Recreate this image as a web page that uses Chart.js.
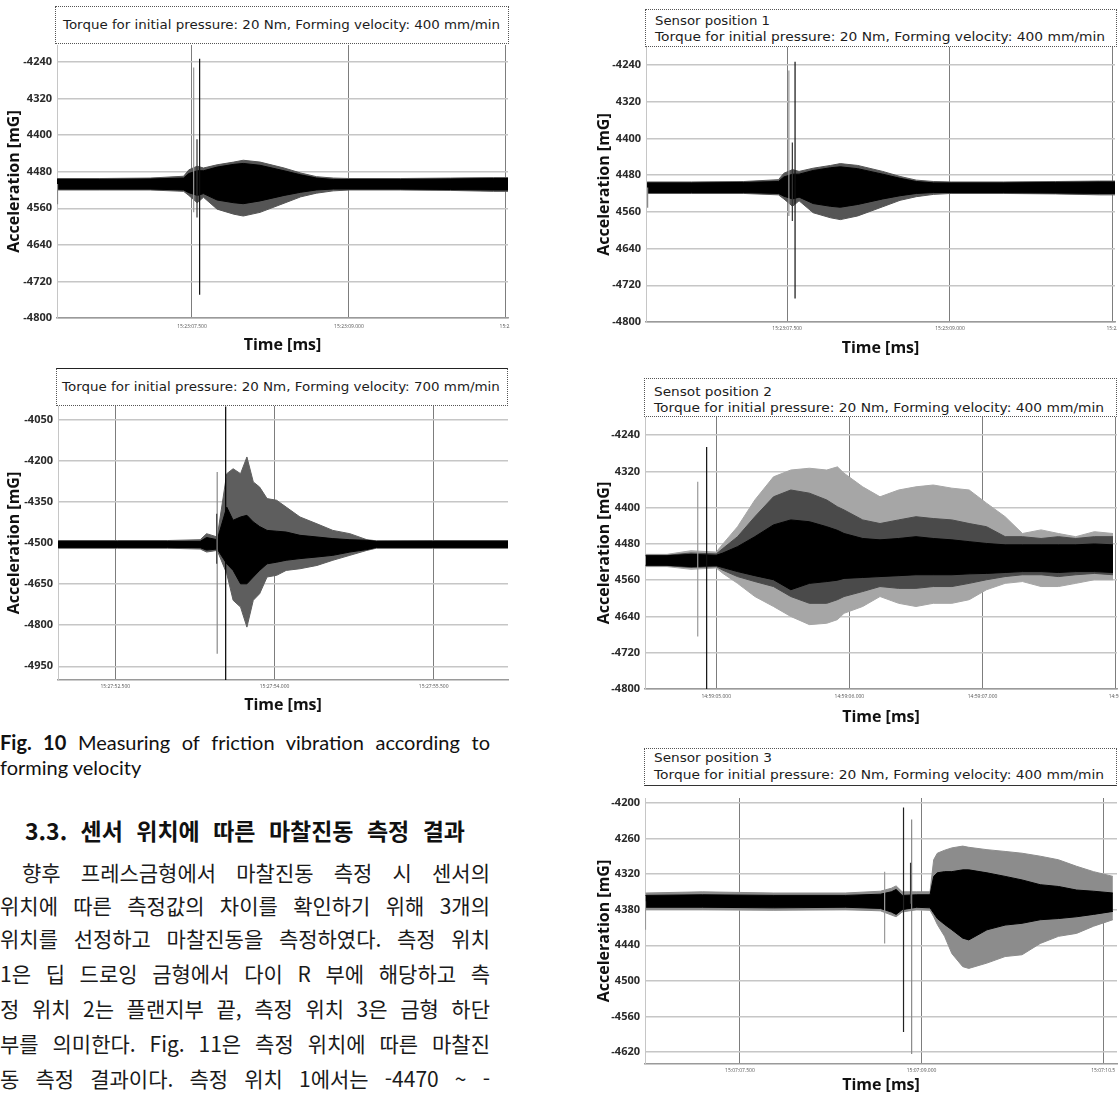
<!DOCTYPE html>
<html lang="ko">
<head>
<meta charset="UTF-8">
<title>마찰진동 측정 결과</title>
<script src="https://cdn.jsdelivr.net/npm/chart.js@4.4.1/dist/chart.umd.min.js"></script>
<style>
    html, body { margin: 0; padding: 0; background: #fff; }
    body { position: relative; width: 1119px; height: 1098px; overflow: hidden; }
    canvas { position: absolute; }
    .box { position: absolute; box-sizing: border-box; border: 1px dotted #555; background: #fff;
           font-family: "DejaVu Sans", sans-serif; font-size: 13px; color: #1c1c1c; }
    .box .ln { position: absolute; white-space: nowrap; line-height: 16px; }
    .fit { display: inline-block; transform-origin: 0 50%; }
    .cap { position: absolute; left: 0; width: 490px; font-family: Lato, sans-serif; font-size: 20px;
           line-height: 24px; color: #111; text-align: justify; text-align-last: justify; }
    .head { position: absolute; left: 25px; width: 440px; top: 815px; line-height: 30px;
            font-family: "Noto Sans CJK KR", sans-serif; font-weight: 700; font-size: 23px; color: #111;
            text-align: justify; text-align-last: justify; }
    .para { position: absolute; left: 0; width: 490px; line-height: 28px; font-family: "Noto Sans CJK KR", sans-serif;
            font-size: 21px; color: #1a1a1a; text-align: justify; text-align-last: justify; }
</style>
</head>
<body>
    <!-- 차트 캔버스 -->
    <canvas id="chart400" width="510" height="311" style="left:0;top:45px"></canvas>
    <canvas id="chart700" width="510" height="310" style="left:0;top:406px"></canvas>
    <canvas id="chartPos1" width="527" height="312" style="left:590px;top:47px"></canvas>
    <canvas id="chartPos2" width="529" height="311" style="left:590px;top:417px"></canvas>
    <canvas id="chartPos3" width="529" height="298" style="left:590px;top:798px"></canvas>

    <!-- 조건 박스 -->
    <div class="box" style="left:55px;top:6px;width:454px;height:38px">
        <div class="ln" style="left:7px;top:10px"><span class="fit" data-w="437">Torque for initial pressure: 20 Nm, Forming velocity: 400 mm/min</span></div>
    </div>
    <div class="box" style="left:56px;top:368px;width:452px;height:38px;border-top:1px solid #222">
        <div class="ln" style="left:5px;top:10px"><span class="fit" data-w="438">Torque for initial pressure: 20 Nm, Forming velocity: 700 mm/min</span></div>
    </div>
    <div class="box" style="left:645px;top:9px;width:472px;height:38px">
        <div class="ln" style="left:9px;top:3px"><span class="fit" data-w="115">Sensor position 1</span></div>
        <div class="ln" style="left:9px;top:19px"><span class="fit" data-w="450">Torque for initial pressure: 20 Nm, Forming velocity: 400 mm/min</span></div>
    </div>
    <div class="box" style="left:644px;top:378px;width:473px;height:39px">
        <div class="ln" style="left:9px;top:5px"><span class="fit" data-w="118">Sensot position 2</span></div>
        <div class="ln" style="left:9px;top:21px"><span class="fit" data-w="450">Torque for initial pressure: 20 Nm, Forming velocity: 400 mm/min</span></div>
    </div>
    <div class="box" style="left:644px;top:748px;width:473px;height:38px;border-bottom:1px solid #333">
        <div class="ln" style="left:9px;top:1px"><span class="fit" data-w="118">Sensor position 3</span></div>
        <div class="ln" style="left:9px;top:18px"><span class="fit" data-w="450">Torque for initial pressure: 20 Nm, Forming velocity: 400 mm/min</span></div>
    </div>

    <!-- 본문 -->
    <div class="cap" style="top:730px"><b>Fig. 10</b> Measuring of friction vibration according to</div>
    <div class="cap" style="top:755px;text-align:left;text-align-last:left">forming velocity</div>
    <div class="head">3.3. 센서 위치에 따른 마찰진동 측정 결과</div>
    <div class="para" style="top:858px;left:22px;width:468px">향후 프레스금형에서 마찰진동 측정 시 센서의</div>
    <div class="para" style="top:891px">위치에 따른 측정값의 차이를 확인하기 위해 3개의</div>
    <div class="para" style="top:924px">위치를 선정하고 마찰진동을 측정하였다. 측정 위치</div>
    <div class="para" style="top:959px">1은 딥 드로잉 금형에서 다이 R 부에 해당하고 측</div>
    <div class="para" style="top:994px">정 위치 2는 플랜지부 끝, 측정 위치 3은 금형 하단</div>
    <div class="para" style="top:1029px">부를 의미한다. Fig. 11은 측정 위치에 따른 마찰진</div>
    <div class="para" style="top:1064px">동 측정 결과이다. 측정 위치 1에서는 -4470 ~ -</div>

<script>
    // 성형속도 400 mm/min (센서 위치 1과 같은 측정) : 시간[s], 포락선[mG]
    const v400Time = [6.21, 6.62, 7.10, 7.42, 7.47, 7.55, 7.61, 7.74, 7.90, 7.99, 8.15, 8.38, 8.54, 8.69, 8.85, 9.01, 9.49, 9.97, 10.38, 10.52];
    const v400OuterHi = [-4495, -4495, -4494, -4490, -4476, -4468, -4472, -4465, -4459, -4455, -4459, -4472, -4483, -4491, -4494, -4495, -4495, -4494, -4493, -4493];
    const v400OuterLo = [-4520, -4520, -4520, -4523, -4532, -4548, -4536, -4562, -4573, -4577, -4569, -4549, -4535, -4527, -4522, -4520, -4520, -4521, -4523, -4523];
    const v400CoreHi = [-4497, -4497, -4496, -4494, -4484, -4478, -4478, -4470, -4464, -4462, -4466, -4478, -4487, -4494, -4497, -4497, -4497, -4496, -4495, -4495];
    const v400CoreLo = [-4518, -4518, -4518, -4520, -4526, -4532, -4528, -4542, -4548, -4550, -4544, -4532, -4525, -4520, -4518, -4518, -4518, -4519, -4520, -4520];
    const v400SpikeTime = [6.215, 7.516, 7.548, 7.573];
    const v400SpikeHi = [-4507, -4252, -4409, -4233];
    const v400SpikeLo = [-4551, -4569, -4580, -4749];
    const v400XTicks = [7.5, 9.0, 10.5];
    const v400XLabels = ['15:23:07.500', '15:23:09.000', '15:23'];

    // 성형속도 700 mm/min
    const v700Time = [51.96, 52.52, 52.99, 53.30, 53.36, 53.46, 53.55, 53.61, 53.68, 53.74, 53.80, 53.86, 53.93, 54.02, 54.11, 54.24, 54.40, 54.55, 54.71, 54.87, 54.96, 55.49, 56.20];
    const v700OuterHi = [-4491, -4491, -4491, -4488, -4466, -4478, -4247, -4229, -4247, -4186, -4277, -4296, -4338, -4344, -4369, -4405, -4430, -4454, -4466, -4488, -4492, -4491, -4491];
    const v700OuterLo = [-4519, -4519, -4519, -4522, -4533, -4527, -4612, -4709, -4734, -4807, -4709, -4685, -4624, -4618, -4600, -4594, -4582, -4563, -4545, -4527, -4519, -4519, -4519];
    const v700CoreHi = [-4494, -4494, -4494, -4494, -4480, -4488, -4369, -4417, -4405, -4399, -4423, -4440, -4454, -4457, -4460, -4472, -4478, -4484, -4488, -4490, -4494, -4494, -4494];
    const v700CoreLo = [-4516, -4516, -4516, -4517, -4526, -4522, -4576, -4600, -4649, -4649, -4624, -4600, -4576, -4570, -4563, -4557, -4551, -4545, -4533, -4524, -4516, -4516, -4516];
    const v700SpikeTime = [53.455, 53.46, 53.54];
    const v700SpikeHi = [-4393, -4241, -4002];
    const v700SpikeLo = [-4576, -4904, -5000];
    const v700XTicks = [52.5, 54.0, 55.5];
    const v700XLabels = ['15:27:52.500', '15:27:54.000', '15:27:55.500'];

    // 센서 위치 2
    const pos2Time = [4.47, 4.63, 4.81, 5.00, 5.05, 5.16, 5.29, 5.43, 5.56, 5.70, 5.83, 5.91, 5.96, 6.10, 6.23, 6.37, 6.50, 6.63, 6.77, 6.90, 7.03, 7.17, 7.30, 7.44, 7.57, 7.70, 7.84, 7.98];
    const pos2OuterHi = [-4503, -4503, -4495, -4498, -4480, -4442, -4383, -4332, -4317, -4313, -4317, -4310, -4324, -4354, -4376, -4361, -4354, -4350, -4357, -4361, -4390, -4420, -4457, -4449, -4457, -4464, -4453, -4457];
    const pos2OuterLo = [-4530, -4530, -4536, -4533, -4545, -4567, -4596, -4618, -4640, -4658, -4655, -4647, -4633, -4618, -4596, -4611, -4618, -4611, -4611, -4603, -4581, -4567, -4563, -4574, -4574, -4567, -4559, -4559];
    const pos2MidHi = [-4505, -4505, -4500, -4502, -4490, -4464, -4420, -4376, -4361, -4368, -4383, -4398, -4405, -4427, -4435, -4427, -4420, -4424, -4427, -4435, -4442, -4464, -4464, -4468, -4464, -4468, -4464, -4464];
    const pos2MidLo = [-4528, -4528, -4532, -4530, -4538, -4552, -4563, -4574, -4596, -4611, -4611, -4603, -4596, -4585, -4574, -4578, -4578, -4574, -4574, -4567, -4559, -4552, -4548, -4548, -4552, -4548, -4545, -4548];
    const pos2CoreHi = [-4506, -4506, -4503, -4505, -4500, -4486, -4464, -4438, -4427, -4431, -4442, -4450, -4457, -4468, -4471, -4468, -4464, -4468, -4471, -4475, -4479, -4482, -4482, -4482, -4482, -4482, -4480, -4482];
    const pos2CoreLo = [-4527, -4527, -4530, -4528, -4532, -4541, -4550, -4559, -4581, -4567, -4563, -4560, -4556, -4554, -4552, -4550, -4548, -4548, -4548, -4546, -4545, -4543, -4541, -4541, -4543, -4541, -4541, -4543];
    const pos2SpikeTime = [4.861, 4.928];
    const pos2SpikeHi = [-4343, -4266];
    const pos2SpikeLo = [-4684, -4800];
    const pos2XTicks = [5, 6, 7, 8];
    const pos2XLabels = ['14:59:05.000', '14:59:06.000', '14:59:07.000', '14:59:'];

    // 센서 위치 3
    const pos3Time = [6.72, 7.19, 7.78, 8.37, 8.66, 8.75, 8.79, 8.84, 8.96, 9.07, 9.10, 9.13, 9.19, 9.25, 9.34, 9.39, 9.54, 9.69, 9.83, 9.98, 10.13, 10.28, 10.42, 10.58];
    const pos3OuterHi = [-4352, -4350, -4352, -4352, -4349, -4344, -4340, -4350, -4350, -4350, -4296, -4285, -4280, -4276, -4273, -4275, -4279, -4282, -4285, -4290, -4296, -4307, -4316, -4324];
    const pos3OuterLo = [-4380, -4380, -4381, -4380, -4382, -4389, -4392, -4384, -4380, -4381, -4392, -4405, -4425, -4454, -4476, -4479, -4470, -4459, -4456, -4437, -4425, -4420, -4408, -4397];
    const pos3CoreHi = [-4356, -4355, -4356, -4356, -4354, -4350, -4346, -4356, -4355, -4355, -4324, -4318, -4316, -4316, -4313, -4313, -4318, -4324, -4330, -4338, -4341, -4347, -4349, -4352];
    const pos3CoreLo = [-4376, -4376, -4377, -4376, -4378, -4384, -4388, -4380, -4376, -4377, -4386, -4395, -4405, -4414, -4428, -4431, -4414, -4406, -4403, -4397, -4395, -4392, -4388, -4383];
    const pos3SpikeTime = [6.72, 8.695, 8.851, 8.909, 8.918];
    const pos3SpikeHi = [-4366, -4316, -4208, -4301, -4228];
    const pos3SpikeLo = [-4414, -4437, -4586, -4370, -4623];
    const pos3XTicks = [7.5, 9.0, 10.5];
    const pos3XLabels = ['15:07:07.500', '15:07:09.000', '15:07:10.5'];

    // y축 눈금 (스캔에서 보이는 그대로)
    const y80Ticks = [-4240, -4320, -4400, -4480, -4560, -4640, -4720, -4800];
    const y80Labels = ['-4240', '4320', '4400', '4480', '4560', '4640', '-4720', '-4800'];
    const y150Ticks = [-4050, -4200, -4350, -4500, -4650, -4800, -4950];
    const y150Labels = ['-4050', '-4200', '-4350', '-4500', '-4650', '-4800', '-4950'];
    const y60Ticks = [-4200, -4260, -4320, -4380, -4440, -4500, -4560, -4620];
    const y60Labels = ['-4200', '4260', '4320', '4380', '4440', '4500', '-4560', '-4620'];

    Chart.defaults.font.family = '"Open Sans", sans-serif';

    // 제목 박스 글자 폭 맞추기
    document.querySelectorAll('.fit').forEach(function (el) {
        const w = el.getBoundingClientRect().width;
        el.style.transform = 'scaleX(' + (el.dataset.w / w).toFixed(3) + ')';
    });

    function signalChart(id, s) {
        const datasets = [];
        s.bands.forEach(function (b) {
            datasets.push({ data: s.time.map((t, k) => ({ x: t, y: b.hi[k] })), fill: '+1',
                backgroundColor: b.color, borderColor: b.color, borderWidth: 1, order: b.order });
            datasets.push({ data: s.time.map((t, k) => ({ x: t, y: b.lo[k] })), fill: false,
                borderColor: b.color, borderWidth: 1, order: b.order });
        });
        s.spikeTime.forEach(function (t, k) {
            datasets.push({ data: [{ x: t, y: s.spikeHi[k] }, { x: t, y: s.spikeLo[k] }], fill: false,
                borderColor: s.spikeColors[k], borderWidth: 1.2, order: 0 });
        });

        return new Chart(document.getElementById(id), {
            type: 'line',
            data: { datasets: datasets },
            options: {
                responsive: false,
                animation: false,
                devicePixelRatio: 1,
                layout: { padding: { left: 0, top: 0, right: 2, bottom: 0 } },
                elements: { point: { radius: 0 }, line: { tension: 0 } },
                plugins: { legend: { display: false }, tooltip: { enabled: false } },
                scales: {
                    x: {
                        type: 'linear', min: s.xMin, max: s.xMax,
                        afterBuildTicks: sc => { sc.ticks = s.xTicks.map(v => ({ value: v })); },
                        afterFit: sc => { sc.height = s.xh; sc.paddingLeft = 0; sc.paddingRight = 0; },
                        ticks: { autoSkip: false, maxRotation: 0, padding: s.xPad, color: '#555',
                                 font: { size: 5 }, callback: (v, i) => s.xLabels[i] },
                        grid: { color: '#7d7d7d', lineWidth: 1, drawTicks: false },
                        border: { color: '#9a9a9a', width: 1.5 },
                        title: { display: true, text: 'Time [ms]', color: '#111',
                                 font: { size: 16, weight: 'bold' }, padding: { top: 0, bottom: 1 } }
                    },
                    y: {
                        min: s.yMin, max: s.yMax,
                        afterBuildTicks: sc => { sc.ticks = s.yTicks.map(v => ({ value: v })); },
                        afterFit: sc => { sc.width = s.yw; sc.paddingTop = 0; sc.paddingBottom = 0; },
                        ticks: { padding: 5, color: '#2a2a2a', font: { size: 11, weight: 'bold' },
                                 callback: (v, i) => s.yLabels[i] },
                        grid: { color: '#c6c6c6', lineWidth: 1.5, drawTicks: false },
                        border: { color: '#c6c6c6' },
                        title: { display: true, text: 'Acceleration [mG]', color: '#111',
                                 font: { size: 16, weight: 'bold' }, padding: { top: 5, bottom: 0 } }
                    }
                }
            }
        });
    }

    const v400Bands = [
        { hi: v400OuterHi, lo: v400OuterLo, color: '#555555', order: 30 },
        { hi: v400CoreHi, lo: v400CoreLo, color: '#000000', order: 10 }
    ];

    signalChart('chart400', {
        time: v400Time, bands: v400Bands,
        spikeTime: v400SpikeTime, spikeHi: v400SpikeHi, spikeLo: v400SpikeLo,
        spikeColors: ['#888', '#9a9a9a', '#333', '#111'],
        xMin: 6.21, xMax: 10.52, xTicks: v400XTicks, xLabels: v400XLabels,
        yMin: -4800, yMax: -4203, yTicks: y80Ticks, yLabels: y80Labels,
        yw: 57, xh: 38, xPad: 6
    });

    signalChart('chart700', {
        time: v700Time,
        bands: [
            { hi: v700OuterHi, lo: v700OuterLo, color: '#5e5e5e', order: 30 },
            { hi: v700CoreHi, lo: v700CoreLo, color: '#000000', order: 10 }
        ],
        spikeTime: v700SpikeTime, spikeHi: v700SpikeHi, spikeLo: v700SpikeLo,
        spikeColors: ['#444', '#8a8a8a', '#000'],
        xMin: 51.96, xMax: 56.20, xTicks: v700XTicks, xLabels: v700XLabels,
        yMin: -5000, yMax: -4000, yTicks: y150Ticks, yLabels: y150Labels,
        yw: 58, xh: 36, xPad: 4
    });

    signalChart('chartPos1', {
        time: v400Time, bands: v400Bands,
        spikeTime: v400SpikeTime, spikeHi: v400SpikeHi, spikeLo: v400SpikeLo,
        spikeColors: ['#888', '#9a9a9a', '#333', '#111'],
        xMin: 6.20, xMax: 10.52, xTicks: v400XTicks, xLabels: v400XLabels,
        yMin: -4800, yMax: -4201, yTicks: y80Ticks, yLabels: y80Labels,
        yw: 56, xh: 37, xPad: 4
    });

    signalChart('chartPos2', {
        time: pos2Time,
        bands: [
            { hi: pos2OuterHi, lo: pos2OuterLo, color: '#a6a6a6', order: 30 },
            { hi: pos2MidHi, lo: pos2MidLo, color: '#4a4a4a', order: 20 },
            { hi: pos2CoreHi, lo: pos2CoreLo, color: '#000000', order: 10 }
        ],
        spikeTime: pos2SpikeTime, spikeHi: pos2SpikeHi, spikeLo: pos2SpikeLo,
        spikeColors: ['#999', '#111'],
        xMin: 4.465, xMax: 8.01, xTicks: pos2XTicks, xLabels: pos2XLabels,
        yMin: -4800, yMax: -4200, yTicks: y80Ticks, yLabels: y80Labels,
        yw: 55, xh: 39, xPad: 5
    });

    signalChart('chartPos3', {
        time: pos3Time,
        bands: [
            { hi: pos3OuterHi, lo: pos3OuterLo, color: '#8c8c8c', order: 30 },
            { hi: pos3CoreHi, lo: pos3CoreLo, color: '#000000', order: 10 }
        ],
        spikeTime: pos3SpikeTime, spikeHi: pos3SpikeHi, spikeLo: pos3SpikeLo,
        spikeColors: ['#999', '#9a9a9a', '#222', '#333', '#8a8a8a'],
        xMin: 6.716, xMax: 10.614, xTicks: pos3XTicks, xLabels: pos3XLabels,
        yMin: -4640, yMax: -4192, yTicks: y60Ticks, yLabels: y60Labels,
        yw: 55, xh: 32, xPad: 4
    });
</script>
</body>
</html>
